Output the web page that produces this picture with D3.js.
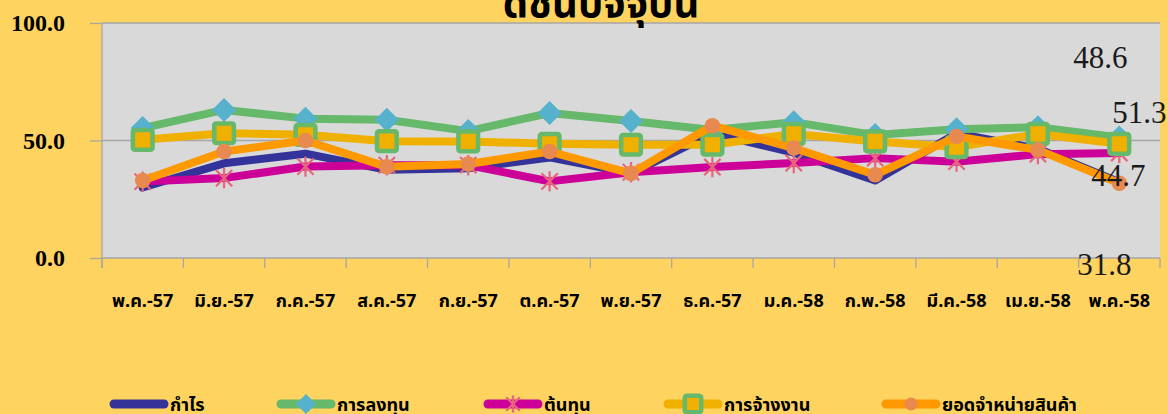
<!DOCTYPE html>
<html>
<head>
<meta charset="utf-8">
<script src="https://cdn.jsdelivr.net/npm/d3@7"></script>
<style>
  html, body { margin: 0; padding: 0; background: #ffd35f; overflow: hidden; }
  svg { display: block; }
  .thai { font-family: "Noto Sans Thai", "Noto Serif Thai", "Loma", "Garuda", "Norasi", "Tlwg Typo", "DejaVu Sans", sans-serif; }
  .num { font-family: "Liberation Serif", "Times New Roman", serif; }
</style>
</head>
<body>
<svg id="chart" width="1167" height="414"></svg>
<script>
// ---------------- data ----------------
const categories = ["พ.ค.-57","มิ.ย.-57","ก.ค.-57","ส.ค.-57","ก.ย.-57","ต.ค.-57","พ.ย.-57","ธ.ค.-57","ม.ค.-58","ก.พ.-58","มี.ค.-58","เม.ย.-58","พ.ค.-58"];
const profit     = [30.0, 40.3, 44.4, 37.5, 38.2, 42.8, 36.0, 53.0, 44.8, 33.0, 53.0, 46.5, 32.3];
const investment = [55.3, 63.0, 59.3, 58.8, 54.0, 61.7, 58.3, 54.5, 57.8, 52.3, 54.8, 55.6, 51.3];
const cost       = [32.5, 34.0, 38.9, 39.5, 39.5, 32.6, 36.5, 38.7, 40.4, 42.5, 41.0, 44.2, 44.7];
const employment = [50.3, 53.1, 52.4, 49.7, 49.6, 48.6, 48.2, 48.2, 52.8, 49.6, 47.2, 52.8, 48.6];
const sales      = [33.0, 45.3, 50.0, 38.8, 40.0, 45.3, 36.0, 56.3, 46.8, 35.4, 51.7, 46.0, 31.8];
const seriesNames = ["กำไร","การลงทุน","ต้นทุน","การจ้างงาน","ยอดจำหน่ายสินค้า"];
const yTicks = [0, 50, 100];
const title = "ดัชนีปัจจุบัน";
const dataLabels = ["48.6", "51.3", "44.7", "31.8"];

// ---------------- styles ----------------
const styles = [
  { values: profit,     line: "#333399", marker: "none" },
  { values: investment, line: "#66b86a", marker: "diamond", fill: "#55b1cc" },
  { values: cost,       line: "#cc0099", marker: "star",    stroke: "#e8667c" },
  { values: employment, line: "#f0b000", marker: "square",  fill: "#f0b000", stroke: "#66b86a" },
  { values: sales,      line: "#ff9900", marker: "circle",  fill: "#e88a50" }
];

const W = 1167, H = 414;
const plot = { left: 102, right: 1160, top: 23, bottom: 258 };
const svg = d3.select("#chart");

const x = d3.scaleBand().domain(categories).range([plot.left, plot.right]).padding(0);
const y = d3.scaleLinear().domain([0, 100]).range([plot.bottom, plot.top]);
const cx = c => x(c) + x.bandwidth() / 2;

// plot background
svg.append("rect")
  .attr("x", plot.left).attr("y", plot.top)
  .attr("width", plot.right - plot.left).attr("height", plot.bottom - plot.top)
  .attr("fill", "#d9d9d9");

// gridlines
svg.append("g").selectAll("line").data(yTicks.filter(d => d > 0)).join("line")
  .attr("x1", plot.left).attr("x2", plot.right)
  .attr("y1", d => y(d)).attr("y2", d => y(d))
  .attr("stroke", "#a6a6a6").attr("stroke-width", 1.3);

// y axis
const yAxis = svg.append("g").attr("transform", `translate(${plot.left},0)`)
  .call(d3.axisLeft(y).tickValues(yTicks).tickFormat(d3.format(".1f")).tickSizeInner(12).tickSizeOuter(0).tickPadding(25));
yAxis.select(".domain").attr("stroke", "#a6a6a6").attr("stroke-width", 1.3)
  .attr("d", `M0,${plot.top}V${plot.bottom + 10}`);
yAxis.selectAll(".tick line").attr("stroke", "#a6a6a6").attr("stroke-width", 1.3);
yAxis.selectAll(".tick text").attr("class", "num")
  .attr("font-size", 24).attr("font-weight", "bold").attr("fill", "#000");

// x axis
svg.append("line")
  .attr("x1", plot.left).attr("x2", plot.right)
  .attr("y1", plot.bottom).attr("y2", plot.bottom)
  .attr("stroke", "#a6a6a6").attr("stroke-width", 1.3);
const boundaries = d3.range(categories.length + 1);
svg.append("g").selectAll("line").data(boundaries).join("line")
  .attr("x1", i => plot.left + i * x.step()).attr("x2", i => plot.left + i * x.step())
  .attr("y1", plot.bottom).attr("y2", plot.bottom + 10)
  .attr("stroke", "#a6a6a6").attr("stroke-width", 1.3);
svg.append("g").selectAll("text").data(categories).join("text")
  .attr("class", "thai")
  .attr("x", d => cx(d)).attr("y", 302)
  .attr("text-anchor", "middle").attr("dominant-baseline", "middle")
  .attr("font-size", 18).attr("font-weight", "bold").attr("fill", "#000")
  .text(d => d);

// marker drawing
function drawMarker(g, type, st, size) {
  if (type === "diamond") {
    g.append("path").attr("d", `M0,${-size}L${size},0L0,${size}L${-size},0Z`).attr("fill", st.fill);
  } else if (type === "square") {
    const s = size * 0.82;
    g.append("rect").attr("x", -s).attr("y", -s).attr("width", 2 * s).attr("height", 2 * s)
      .attr("rx", 2).attr("fill", st.fill).attr("stroke", st.stroke).attr("stroke-width", 4.5);
  } else if (type === "circle") {
    g.append("circle").attr("r", size * 0.65).attr("fill", st.fill);
  } else if (type === "star") {
    const s = size * 0.85;
    const d = s * 0.8;
    g.append("path")
      .attr("d", `M${-d},${-d}L${d},${d}M${-d},${d}L${d},${-d}M0,${-s}V${s}`)
      .attr("stroke", st.stroke).attr("stroke-width", 2.2).attr("fill", "none");
  }
}

// series
const line = d3.line().x((d, i) => cx(categories[i])).y(d => y(d)).curve(d3.curveLinear);
styles.forEach((st, si) => {
  const g = svg.append("g");
  g.append("path").datum(st.values)
    .attr("d", line).attr("fill", "none")
    .attr("stroke", st.line).attr("stroke-width", 8)
    .attr("stroke-linejoin", "round").attr("stroke-linecap", "round");
  if (st.marker !== "none") {
    st.values.forEach((v, i) => {
      const mg = g.append("g").attr("transform", `translate(${cx(categories[i])},${y(v)})`);
      drawMarker(mg, st.marker, st, 12);
    });
  }
});

// data labels (offsets relative to last point of their series)
const labelSeries = [3, 1, 2, 4];
const labelOffsets = [[-46, -83], [-7, -22], [-28, 26], [-42, 85]];
const last = categories.length - 1;
svg.append("g").selectAll("text").data(dataLabels).join("text")
  .attr("class", "num")
  .attr("x", (d, i) => cx(categories[last]) + labelOffsets[i][0])
  .attr("y", (d, i) => y(styles[labelSeries[i]].values[last]) + labelOffsets[i][1])
  .attr("dominant-baseline", "middle")
  .attr("font-size", 31).attr("fill", "#1a1a1a")
  .text(d => d);

// title
svg.append("text").attr("class", "thai")
  .attr("x", 601).attr("y", 17)
  .attr("text-anchor", "middle")
  .attr("font-size", 40).attr("font-weight", "bold").attr("fill", "#000")
  .text(title);

// legend
const legendX = [110, 277, 484, 664, 882];
const legendY = 404;
styles.forEach((st, i) => {
  const g = svg.append("g").attr("transform", `translate(${legendX[i]},${legendY})`);
  g.append("line").attr("x1", 4).attr("x2", 54).attr("y1", 0).attr("y2", 0)
    .attr("stroke", st.line).attr("stroke-width", 9).attr("stroke-linecap", "round");
  if (st.marker !== "none") {
    const mg = g.append("g").attr("transform", "translate(29,0)");
    drawMarker(mg, st.marker, st, 10);
  }
  g.append("text").attr("class", "thai")
    .attr("x", 60).attr("y", 2)
    .attr("dominant-baseline", "middle")
    .attr("font-size", 18).attr("font-weight", "bold").attr("fill", "#000")
    .text(seriesNames[i]);
});
</script>
</body>
</html>
